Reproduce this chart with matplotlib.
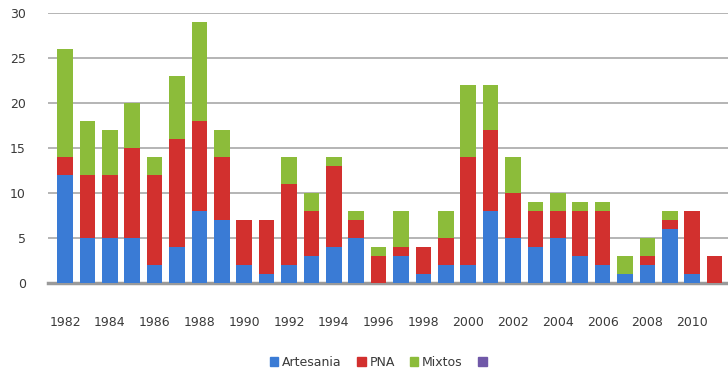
import numpy as np
import matplotlib.pyplot as plt
from matplotlib.patches import Patch

years = list(range(1982, 2012))
artesania = [12, 5, 5, 5, 2, 4, 8, 7, 2, 1, 2, 3, 4, 5, 0, 3, 1, 2, 2, 8, 5, 4, 5, 3, 2, 1, 2, 6, 1, 0]
pna = [2, 7, 7, 10, 10, 12, 10, 7, 5, 6, 9, 5, 9, 2, 3, 1, 3, 3, 12, 9, 5, 4, 3, 5, 6, 0, 1, 1, 7, 3]
mixtos = [12, 6, 5, 5, 2, 7, 11, 3, 0, 0, 3, 2, 1, 1, 1, 4, 0, 3, 8, 5, 4, 1, 2, 1, 1, 2, 2, 1, 0, 0]
tick_years = years[::2]

c_art = '#3a7bd5'
c_pna = '#d2302e'
c_mix = '#8cbc3a'
c_extra = '#7058a8'

fig = plt.figure(figsize=(7.28, 3.69), dpi=100)
ax = fig.add_axes([48 / 728, 86 / 369, 680 / 728, 270 / 369])

x = np.arange(len(years))
a = np.array(artesania)
p = np.array(pna)
m = np.array(mixtos)
w = 0.7
ax.bar(x, a, w, color=c_art, linewidth=0, zorder=3)
ax.bar(x, p, w, bottom=a, color=c_pna, linewidth=0, zorder=3)
ax.bar(x, m, w, bottom=a + p, color=c_mix, linewidth=0, zorder=3)

ax.set_ylim(0, 30)
ax.set_xlim(-0.76, 29.6)
ax.set_yticks(range(0, 31, 5))
ax.set_xticks([years.index(y) for y in tick_years])
ax.set_xticklabels([str(y) for y in tick_years])
ax.grid(axis='y', color='#a8a8a8', linewidth=1.2, zorder=0)
for s in ['top', 'right', 'left']:
    ax.spines[s].set_visible(False)
ax.spines['bottom'].set_color('#9a9a9a')
ax.spines['bottom'].set_linewidth(2.5)
ax.tick_params(axis='both', length=0, labelsize=9, colors='#3a3a3a')
ax.tick_params(axis='x', pad=24)
ax.tick_params(axis='y', pad=16)

handles = [Patch(color=c_art), Patch(color=c_pna), Patch(color=c_mix), Patch(color=c_extra)]
labels = ['Artesania', 'PNA', 'Mixtos', '']
fig.legend(handles, labels, loc='center', bbox_to_anchor=(380 / 728, 1 - 362 / 369),
           ncol=4, frameon=False, fontsize=9, handlelength=0.7, handleheight=0.7,
           handletextpad=0.3, columnspacing=1.2, labelcolor='#3a3a3a')

fig.savefig('out.png', dpi=100)
